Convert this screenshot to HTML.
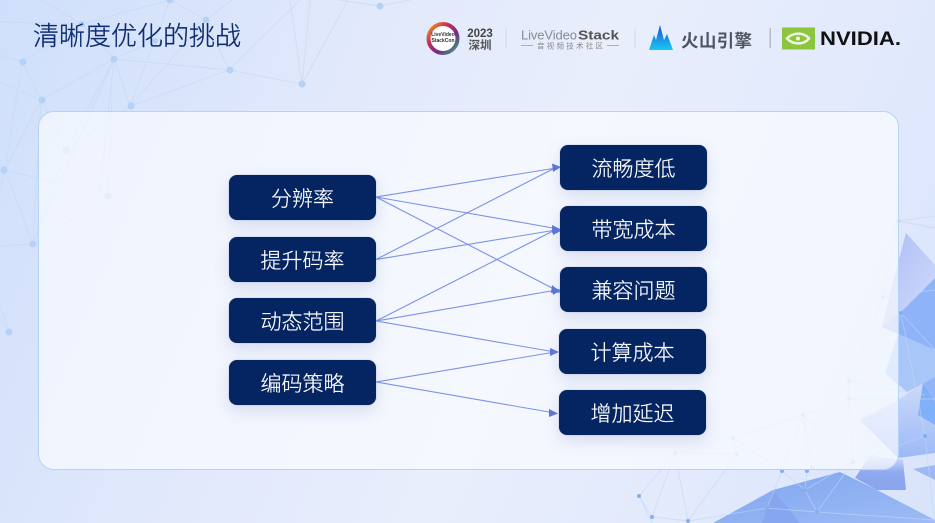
<!DOCTYPE html>
<html lang="zh"><head><meta charset="utf-8"><title>清晰度优化的挑战</title>
<style>
html,body{margin:0;padding:0}
body{width:935px;height:523px;overflow:hidden;position:relative;background:linear-gradient(112deg,#cfdffb 0%,#e0e8fb 30%,#e9eefc 55%,#e1e9fc 80%,#d8e4fb 100%);font-family:"Liberation Sans","Noto Sans CJK SC",sans-serif}
svg.a{position:absolute;left:0;top:0}
.panel{position:absolute;left:38px;top:111px;width:859px;height:357px;border:1px solid #b3d4f8;border-radius:16px;background:rgba(250,252,255,.68)}
.b{position:absolute;width:147px;height:45px;line-height:46px;border-radius:8px;background:#052562;color:#fff;text-align:center;font-size:21px;font-weight:300;-webkit-text-stroke:.2px #fff;box-shadow:0 6px 16px rgba(60,90,160,.16),0 0 1px 0 rgba(90,120,180,.7);font-family:"Noto Sans CJK SC",sans-serif}
.t{position:absolute;left:33px;top:16px;font-size:26px;font-weight:300;-webkit-text-stroke:.3px #0c2c6e;line-height:38px;color:#0c2c6e;font-family:"Noto Sans CJK SC",sans-serif;white-space:nowrap}
</style></head><body>
<svg class="a" width="935" height="523" viewBox="0 0 935 523">
<defs>
<linearGradient id="p1" x1="0" y1="0" x2="1" y2="1"><stop offset="0" stop-color="#a9bcf5"/><stop offset="1" stop-color="#d4dcfa"/></linearGradient>
<linearGradient id="p2" x1="0" y1="0" x2="0" y2="1"><stop offset="0" stop-color="#cddafa"/><stop offset="1" stop-color="#9cb9f6"/></linearGradient>
<linearGradient id="p3" x1="0" y1="0" x2="1" y2="1"><stop offset="0" stop-color="#7fa6ef"/><stop offset="1" stop-color="#9dbbf5"/></linearGradient>
<linearGradient id="p4" x1="0" y1="0" x2="0" y2="1"><stop offset="0" stop-color="#d5dffb"/><stop offset=".5" stop-color="#8fa9ef"/><stop offset="1" stop-color="#8aa4ee"/></linearGradient>
</defs>
<polygon points="906,233 935,265 935,278 900,313 882,327 898,263" fill="url(#p1)"/>
<polygon points="900,313 935,278 935,350 898,334" fill="#8fb3f8"/>
<polygon points="882,327 900,313 898,334" fill="#a9bdf5"/>
<polygon points="898,334 935,350 935,377 907,392 885,373" fill="#a8c7f8"/>
<polygon points="907,392 935,377 935,405 923,383" fill="#93b5f7"/>
<polygon points="860,420 898,400 923,383 935,402 935,453 898,458" fill="url(#p2)"/>
<polygon points="923,383 935,402 935,425 918,415" fill="#7fb0fa"/>
<polygon points="713,523 773,490 840,472 877,490 935,520 935,523" fill="url(#p3)"/>
<polygon points="773,490 800,523 762,523" fill="#86a6f0"/>
<polygon points="855,478 870,455 903,460 906,490 877,490" fill="url(#p4)"/>
<polygon points="913,469 935,465 935,480" fill="#9db8f3"/>
<g stroke="#c3d7f4" stroke-width=".9" fill="none" opacity=".62">
<path d="M0 22 82 24 170 0M41 0 82 24 114 59 155 41 206 20 170 0M22 62 41 100 114 59 130 106 229 70 114 59M22 62 0 55M22 62 5 170M41 100 5 170M41 100 0 82M229 70 302 84 290 0M229 70 206 20 232 0M229 70 300 0M130 106 206 20M130 106 170 0M302 84 310 0M302 84 348 0M380 6 340 0M380 6 410 0M114 59 100 190M114 59 33 244M41 100 33 244M41 100 66 150M5 170 33 244M5 170 108 196M33 244 66 150M33 244 108 196M66 150 108 196M66 150 114 59M66 150 130 106M108 196 112 100M0 246 33 244M0 305 9 332M0 320 9 332M0 190 5 170M82 24 22 62"/>
<path d="M898 221 883 297 849 381 849 399 803 415 733 438 675 453 639 496 652 517M898 221 935 216M898 221 935 228M883 297 935 290M901 313 935 350M901 313 925 436M849 381 925 395M849 399 935 399M803 415 853 462 849 399M803 415 812 467M803 415 782 471M733 438 737 454 675 453M733 438 782 471M737 454 688 521 675 453M675 453 652 517M782 471 767 508M782 471 805 490 817 512M807 471 805 490M853 462 805 490M853 462 817 512M853 462 925 436M767 508 817 512 935 520M767 508 688 521 652 517M925 436 935 523M639 496 652 523"/>
</g>
<g fill="#b4d1f8">
<circle cx="23" cy="62" r="3.500"/><circle cx="42" cy="100" r="3.500"/><circle cx="114" cy="59" r="3.500"/><circle cx="131" cy="106" r="3.500"/><circle cx="230" cy="70" r="3.500"/><circle cx="302" cy="84" r="3.500"/><circle cx="206" cy="20" r="3.500"/><circle cx="82" cy="24" r="3"/><circle cx="380" cy="6" r="3.500"/><circle cx="170" cy="0" r="3.500"/><circle cx="155" cy="41" r="3"/><circle cx="4" cy="170" r="3.500"/><circle cx="33" cy="244" r="3.500"/><circle cx="9" cy="332" r="3.500"/><circle cx="66" cy="150" r="3.500"/><circle cx="108" cy="196" r="3.500"/>
<circle cx="898" cy="221" r="2"/><circle cx="883" cy="297" r="2"/><circle cx="849" cy="381" r="2"/><circle cx="849" cy="399" r="2"/><circle cx="803" cy="415" r="2"/><circle cx="733" cy="438" r="2"/><circle cx="675" cy="453" r="2"/><circle cx="737" cy="454" r="2"/><circle cx="853" cy="462" r="2"/><circle cx="812" cy="467" r="2"/>
</g>
<g fill="#82b0ee"><circle cx="901" cy="313" r="2"/><circle cx="925" cy="436" r="2"/><circle cx="782" cy="471" r="2"/><circle cx="807" cy="471" r="2"/><circle cx="805" cy="490" r="2"/><circle cx="767" cy="508" r="2"/><circle cx="817" cy="512" r="2"/><circle cx="639" cy="496" r="2"/><circle cx="652" cy="517" r="2"/><circle cx="688" cy="521" r="2"/></g>
</svg>
<div class="panel"></div>
<div class="t">清晰度优化的挑战</div>

<svg class="a" width="935" height="523" viewBox="0 0 935 523" style="z-index:2">
<defs><linearGradient id="r" x1="0" y1="0" x2="1" y2="1"><stop offset="0" stop-color="#e8a51c"/><stop offset=".35" stop-color="#c8285a"/><stop offset=".65" stop-color="#6c2d8e"/><stop offset="1" stop-color="#3cae6a"/></linearGradient>
<linearGradient id="f" x1="0" y1="0" x2="0" y2="1"><stop offset="0" stop-color="#1b4fd8"/><stop offset="1" stop-color="#19c8f0"/></linearGradient></defs>
<circle cx="443" cy="38.500" r="14.500" fill="#fff" stroke="url(#r)" stroke-width="4"/>
<text x="443" y="36" font-size="5" font-weight="700" text-anchor="middle" fill="#333">LiveVideo</text>
<text x="443" y="42" font-size="5" font-weight="700" text-anchor="middle" fill="#333">StackCon</text>
<text x="480" y="37" font-size="11.500" font-weight="700" text-anchor="middle" fill="#444">2023</text>
<text x="480" y="49" font-size="11.500" font-weight="700" text-anchor="middle" fill="#555" font-family="Noto Sans CJK SC">深圳</text>
<rect x="505.500" y="28" width="1" height="20" fill="#d3d9e8"/>
<text x="521" y="39.500" font-size="13" fill="#8a8a92" textLength="56">LiveVideo</text>
<text x="578" y="39.500" font-size="13" font-weight="700" fill="#555" textLength="41" lengthAdjust="spacingAndGlyphs">Stack</text>
<path d="M521 45.500h12M607 45.500h12" stroke="#999" stroke-width=".8"/>
<text x="570" y="48.500" font-size="7.500" fill="#888" text-anchor="middle" font-family="Noto Sans CJK SC" textLength="66">音视频技术社区</text>
<rect x="634.500" y="28" width="1" height="20" fill="#d3d9e8"/>
<polygon points="649,50 654,35 656,40 660,25 664,40 667,34 673,50" fill="url(#f)"/>
<text x="681" y="47" font-size="17.500" font-weight="700" fill="#4f5460" font-family="Noto Sans CJK SC" textLength="71">火山引擎</text>
<rect x="769.500" y="28" width="1.500" height="20" fill="#b4bac8"/>
<rect x="782" y="27.500" width="33" height="22" fill="#8cc63f"/>
<path d="M787 38.500C793 32 804 32 809 38.500C804 45 793 45 787 38.500Z" fill="none" stroke="#eef5e0" stroke-width="2.500"/>
<circle cx="798" cy="38.500" r="2" fill="#eef5e0"/>
<text x="820" y="45" font-size="19" font-weight="700" fill="#111" textLength="81" lengthAdjust="spacingAndGlyphs">NVIDIA.</text>

<g stroke="#7b93e4" stroke-width="1.100" fill="none">
<path d="M376 197 553 168.500M376 197 553 228M376 197 554 289M376 259.500 553 169M376 259.500 553 230.500M376 321 553 231M376 321 554 290.500M376 321 552 351.500M376 382 552 352.500M376 382 552 412.500"/>
</g>
<g fill="#5d78d8">
<polygon points="561,167 552,163.500 553,172"/>
<polygon points="561,229.500 552,225 552,233"/>
<polygon points="561,231 552,227 553,235"/>
<polygon points="561,292.500 552,285 551,293"/>
<polygon points="561,290 552,287 553,295"/>
<polygon points="559,352 550,348 550,356"/>
<polygon points="558,413.500 549,409 549,417"/>
</g>
</svg>

<div class="b" style="left:229px;top:175px;z-index:3">分辨率</div>
<div class="b" style="left:229px;top:237px;z-index:3">提升码率</div>
<div class="b" style="left:229px;top:298px;z-index:3">动态范围</div>
<div class="b" style="left:229px;top:360px;z-index:3">编码策略</div>
<div class="b" style="left:560px;top:145px;z-index:3">流畅度低</div>
<div class="b" style="left:560px;top:206px;z-index:3">带宽成本</div>
<div class="b" style="left:560px;top:267px;z-index:3">兼容问题</div>
<div class="b" style="left:559px;top:329px;z-index:3">计算成本</div>
<div class="b" style="left:559px;top:390px;z-index:3">增加延迟</div>
</body></html>
